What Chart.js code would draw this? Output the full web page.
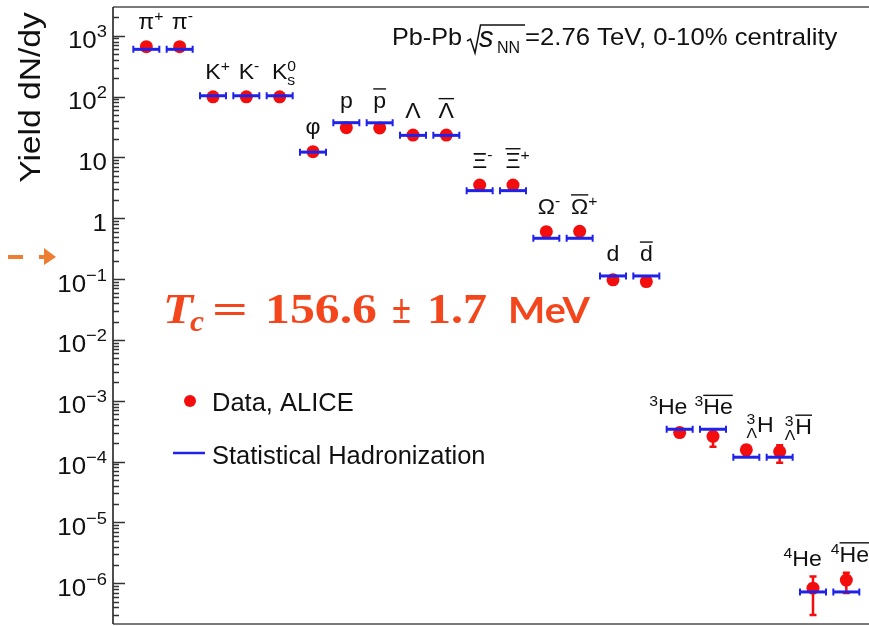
<!DOCTYPE html>
<html>
<head>
<meta charset="utf-8">
<script src="https://cdn.jsdelivr.net/npm/chart.js@4.4.1/dist/chart.umd.min.js"></script>
<style>
  html, body { margin: 0; padding: 0; background: #fff; overflow: hidden; }
  #wrap { position: relative; width: 869px; height: 626px; }
</style>
</head>
<body>
<div id="wrap"><canvas id="yields" width="869" height="626"></canvas></div>
<script>
// Particle species (markup: ^ superscript, _ subscript, ~ overline, {} groups)
const particles = ['π^+', 'π^-', 'K^+', 'K^-', 'K^0_s', 'φ', 'p', '~p', 'Λ', '~Λ',
  'Ξ^-', '~Ξ^+', 'Ω^-', '~Ω^+', 'd', '~d', '^3He', '^3~{He}', '^3_ΛH', '^3_Λ~H', '^4He', '^4~{He}'];

// Horizontal nudge (px) of the light-nuclei labels relative to their marker
const labelNudge = [0, 0, 0, 0, 0, 0, 0, 0, 0, 0, 0, 0, 0, 0, 0, 0, -7, 5, 19, 24, -6, 8];

// Measured yields dN/dy (ALICE, Pb-Pb 0-10%)
const dataYield = [660, 660, 99, 99, 99, 12.4, 30.8, 30.5, 23.3, 23.3,
  3.5, 3.5, 0.60, 0.61, 0.097, 0.091, 3.0e-4, 2.6e-4, 1.56e-4, 1.46e-4, 8.3e-7, 1.13e-6];
const errLow = [40, 40, 6, 6, 6, 1.2, 2.0, 2.0, 2.0, 2.0,
  0.25, 0.25, 0.05, 0.05, 0.012, 0.012, 0.35e-4, 0.84e-4, 0.3e-4, 0.5e-4, 5.3e-7, 4.4e-7];
const errHigh = [40, 40, 6, 6, 6, 1.2, 2.0, 2.0, 2.0, 2.0,
  0.25, 0.25, 0.05, 0.05, 0.012, 0.012, 0.35e-4, 0.8e-4, 0.3e-4, 0.4e-4, 4.6e-7, 3.6e-7];

// Statistical hadronization model yields
const modelYield = [597, 597, 103, 103, 103, 12.2, 37.2, 37.0, 23.0, 23.0,
  2.84, 2.84, 0.468, 0.468, 0.1125, 0.1125, 3.4e-4, 3.4e-4, 1.18e-4, 1.18e-4, 7.2e-7, 7.2e-7];

// Y-axis tick labels: base and exponent
const tickValues = [1e3, 1e2, 1e1, 1, 1e-1, 1e-2, 1e-3, 1e-4, 1e-5, 1e-6];
const tickBases  = ['10', '10', '10', '1', '10', '10', '10', '10', '10', '10'];
const tickExps   = ['3', '2', '', '', '−1', '−2', '−3', '−4', '−5', '−6'];

const SANS = '"Liberation Sans", Arial, Helvetica, sans-serif';
const RED = '#f40d0d';
const BLUE = '#1f22e8';
const ORANGE = '#ed7d31';
const TC_COLOR = '#f4461d';

function stretchText(ctx, s, x, y, sx) {
  ctx.save();
  ctx.translate(x, y);
  ctx.scale(sx, 1);
  ctx.fillText(s, 0, 0);
  ctx.restore();
}
function fitText(ctx, s, x, y, font, width) {
  ctx.font = font;
  const w = ctx.measureText(s).width;
  stretchText(ctx, s, x, y, width / w);
}

function parseLabel(s) {
  const segs = [];
  let i = 0;
  while (i < s.length) {
    let kind = 'n', over = false;
    if (s[i] === '^') { kind = 'sup'; i++; }
    else if (s[i] === '_') { kind = 'sub'; i++; }
    if (s[i] === '~') { over = true; i++; }
    let t;
    if (s[i] === '{') { const j = s.indexOf('}', i); t = s.slice(i + 1, j); i = j + 1; }
    else { t = s[i]; i++; }
    segs.push({ t, kind, over });
  }
  return segs;
}

const LBL = 22, SCR = 15, LSX = 1.05;
// Rich label; the normal-size glyphs are centred on cx
function drawRich(ctx, spec, cx, baseline) {
  const segs = parseLabel(spec);
  let x = 0, prevStart = 0, prevW = 0, prevKind = null;
  let mainL = Infinity, mainR = -Infinity;
  const placed = [];
  segs.forEach(s => {
    const size = s.kind === 'n' ? LBL : SCR;
    ctx.font = size + 'px ' + SANS;
    const w = ctx.measureText(s.t).width * LSX;
    let px;
    if (s.kind === 'sub' && prevKind === 'sup') { px = prevStart; x = prevStart + Math.max(prevW, w); }
    else { px = x; x += w; }
    if (s.kind === 'n') { mainL = Math.min(mainL, px); mainR = Math.max(mainR, px + w); }
    placed.push(Object.assign({}, s, { size, x: px, w }));
    prevStart = px; prevW = w; prevKind = s.kind;
  });
  const left = cx - (mainL + mainR) / 2;
  ctx.fillStyle = '#111';
  placed.forEach(p => {
    ctx.font = p.size + 'px ' + SANS;
    const dy = p.kind === 'sup' ? -8 : (p.kind === 'sub' ? 6 : 0);
    stretchText(ctx, p.t, left + p.x, baseline + dy, LSX);
    if (p.over) {
      const oy = baseline + dy - p.size * 0.72 - 3;
      ctx.fillRect(left + p.x, oy - 0.75, p.w, 1.4);
    }
  });
}

const decorations = {
  id: 'decorations',
  beforeDatasetsDraw(chart) {
    // error bars of the measured yields
    const ctx = chart.ctx, y = chart.scales.y;
    const meta = chart.getDatasetMeta(1);
    ctx.save();
    ctx.strokeStyle = RED;
    ctx.lineWidth = 2.5;
    meta.data.forEach((pt, i) => {
      const yt = y.getPixelForValue(dataYield[i] + errHigh[i]);
      const yb = y.getPixelForValue(dataYield[i] - errLow[i]);
      ctx.beginPath();
      ctx.moveTo(pt.x, yt); ctx.lineTo(pt.x, yb);
      ctx.moveTo(pt.x - 3.5, yt); ctx.lineTo(pt.x + 3.5, yt);
      ctx.moveTo(pt.x - 3.5, yb); ctx.lineTo(pt.x + 3.5, yb);
      ctx.stroke();
    });
    ctx.restore();
  },
  afterDatasetsDraw(chart) {
    // end caps of the model bars
    const ctx = chart.ctx;
    const meta = chart.getDatasetMeta(0);
    ctx.save();
    ctx.strokeStyle = BLUE;
    ctx.lineWidth = 2;
    meta.data.forEach(pt => {
      ctx.beginPath();
      ctx.moveTo(pt.x - 13, pt.y - 3.5); ctx.lineTo(pt.x - 13, pt.y + 3.5);
      ctx.moveTo(pt.x + 13, pt.y - 3.5); ctx.lineTo(pt.x + 13, pt.y + 3.5);
      ctx.stroke();
    });
    ctx.restore();
  },
  afterDraw(chart) {
    const ctx = chart.ctx, a = chart.chartArea, ys = chart.scales.y;
    ctx.save();

    // frame
    ctx.strokeStyle = '#7a7a7a';
    ctx.lineWidth = 2;
    ctx.beginPath();
    ctx.moveTo(a.left, a.top); ctx.lineTo(a.right, a.top);
    ctx.moveTo(a.left, a.bottom); ctx.lineTo(a.right, a.bottom);
    ctx.stroke();
    ctx.strokeStyle = '#222';
    ctx.lineWidth = 1.6;
    ctx.beginPath();
    ctx.moveTo(a.left, a.top); ctx.lineTo(a.left, a.bottom);
    ctx.stroke();

    // inward log ticks
    ctx.lineWidth = 1.3;
    ctx.strokeStyle = '#333';
    ctx.beginPath();
    for (let e = -7; e <= 3; e++) {
      for (let m = 1; m <= 9; m++) {
        const v = m * Math.pow(10, e);
        if (v < ys.min || v > ys.max) continue;
        const py = Math.round(ys.getPixelForValue(v)) + 0.5;
        const len = m === 1 ? 12 : 6;
        ctx.moveTo(a.left, py); ctx.lineTo(a.left + len, py);
      }
    }
    ctx.stroke();

    // tick labels
    ctx.fillStyle = '#111';
    const TSX = 1.08;
    tickValues.forEach((v, i) => {
      const py = ys.getPixelForValue(v);
      const base = py + 12.5;
      let right = 107;
      if (tickExps[i]) {
        ctx.font = '17px ' + SANS;
        const ew = ctx.measureText(tickExps[i]).width * TSX;
        right -= ew;
        stretchText(ctx, tickExps[i], right, base - 11, TSX);
      }
      ctx.font = '24px ' + SANS;
      const bw = ctx.measureText(tickBases[i]).width * TSX;
      stretchText(ctx, tickBases[i], right - bw, base, TSX);
    });

    // y-axis title
    ctx.save();
    ctx.translate(40, 97.5);
    ctx.rotate(-Math.PI / 2);
    ctx.scale(1.12, 1);
    ctx.font = '30px ' + SANS;
    ctx.textAlign = 'center';
    ctx.fillText('Yield dN/dy', 0, 0);
    ctx.restore();

    // particle labels above each species
    const dm = chart.getDatasetMeta(1), mm = chart.getDatasetMeta(0);
    particles.forEach((name, i) => {
      const px = dm.data[i].x + labelNudge[i];
      const top = Math.min(dm.data[i].y - 6.5, mm.data[i].y - 4,
        ys.getPixelForValue(dataYield[i] + errHigh[i]));
      drawRich(ctx, name, px, top - 11);
    });

    // collision system header
    ctx.fillStyle = '#111';
    ctx.font = '24px ' + SANS;
    stretchText(ctx, 'Pb-Pb', 392, 45, 1.05);
    ctx.strokeStyle = '#111';
    ctx.lineWidth = 1.5;
    ctx.beginPath();
    ctx.moveTo(467, 41); ctx.lineTo(470.5, 39); ctx.lineTo(475, 53);
    ctx.lineTo(480.5, 25); ctx.lineTo(525, 25);
    ctx.stroke();
    ctx.font = 'italic 29px ' + SANS;
    stretchText(ctx, 's', 479, 47, 1.0);
    ctx.font = '16px ' + SANS;
    stretchText(ctx, 'NN', 497, 53, 1.0);
    ctx.font = '24px ' + SANS;
    stretchText(ctx, '=2.76 TeV, 0-10% centrality', 525, 45, 1.07);

    // legend
    ctx.fillStyle = RED;
    ctx.beginPath(); ctx.arc(190, 401, 6, 0, Math.PI * 2); ctx.fill();
    ctx.strokeStyle = BLUE;
    ctx.lineWidth = 2.5;
    ctx.beginPath(); ctx.moveTo(173, 453); ctx.lineTo(205, 453); ctx.stroke();
    ctx.fillStyle = '#111';
    ctx.font = '25px ' + SANS;
    stretchText(ctx, 'Data, ALICE', 212, 411, 1.02);
    stretchText(ctx, 'Statistical Hadronization', 212, 464, 1.02);

    // chemical freeze-out temperature
    ctx.fillStyle = TC_COLOR;
    const SERIF = '"Liberation Serif", "DejaVu Serif", serif';
    fitText(ctx, 'T', 163, 323, 'bold italic 42px ' + SERIF, 30);
    fitText(ctx, 'c', 190, 331, 'bold italic 29px ' + SERIF, 14);
    fitText(ctx, '=', 212, 323, 'bold 42px ' + SERIF, 36);
    fitText(ctx, '156.6', 265, 323, 'bold 42px ' + SERIF, 112);
    fitText(ctx, '±', 392, 323, 'bold 42px ' + SERIF, 19);
    fitText(ctx, '1.7', 427, 323, 'bold 42px ' + SERIF, 60);
    fitText(ctx, 'MeV', 508, 323, 'bold 37px Lato, "Open Sans", sans-serif', 82);

    // dashed arrow on the left margin
    ctx.fillStyle = ORANGE;
    ctx.fillRect(8, 255, 15, 4);
    ctx.fillRect(39, 255, 7, 4);
    ctx.beginPath();
    ctx.moveTo(44, 248); ctx.lineTo(56, 257); ctx.lineTo(44, 265); ctx.closePath();
    ctx.fill();

    ctx.restore();
  }
};

new Chart(document.getElementById('yields').getContext('2d'), {
  type: 'scatter',
  data: {
    datasets: [
      {
        label: 'Statistical Hadronization',
        data: modelYield.map((v, i) => ({ x: i, y: v })),
        pointStyle: 'line',
        pointRadius: 13,
        pointBorderColor: BLUE,
        pointBorderWidth: 3,
        borderColor: BLUE,
        showLine: false
      },
      {
        label: 'Data, ALICE',
        data: dataYield.map((v, i) => ({ x: i, y: v })),
        pointStyle: 'circle',
        pointRadius: 6.5,
        pointBackgroundColor: RED,
        pointBorderWidth: 0,
        backgroundColor: RED,
        showLine: false
      }
    ]
  },
  options: {
    responsive: false,
    animation: false,
    devicePixelRatio: 1,
    layout: { autoPadding: false, padding: { left: 113, top: 7, right: 0, bottom: 2 } },
    plugins: { legend: { display: false }, tooltip: { enabled: false } },
    events: [],
    scales: {
      x: { type: 'linear', min: -1, max: 21.68, display: false },
      y: { type: 'logarithmic', min: 2.14e-7, max: 2963, display: false }
    }
  },
  plugins: [decorations]
});
</script>
</body>
</html>
